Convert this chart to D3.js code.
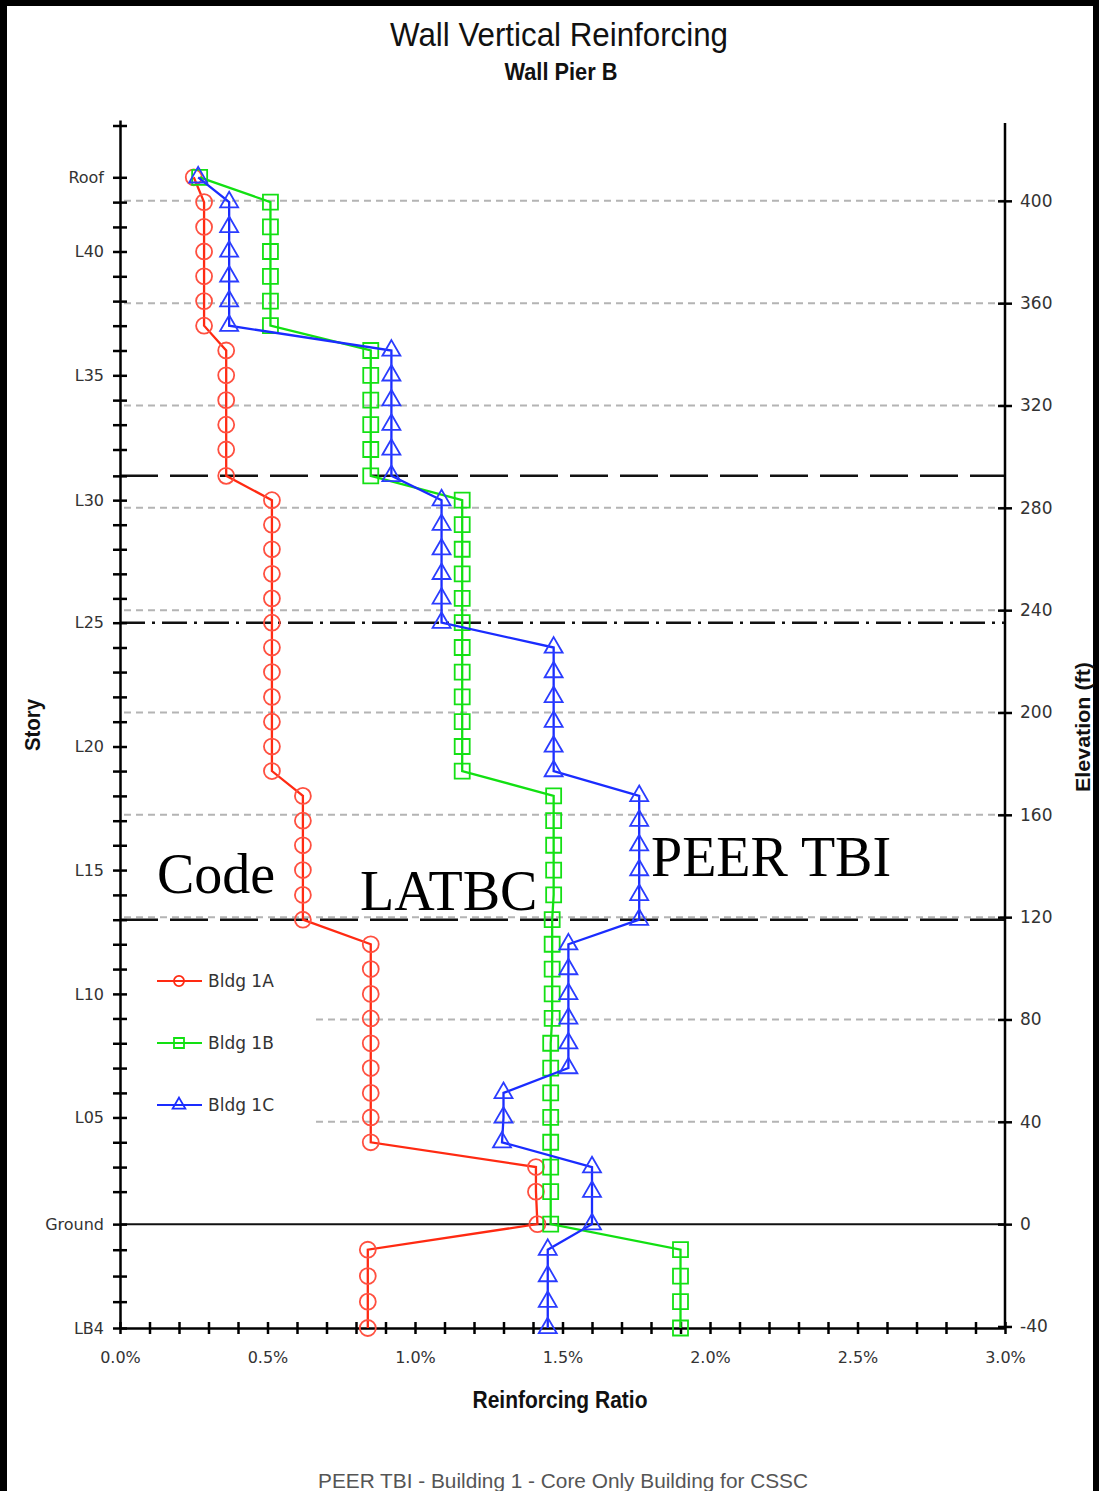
<!DOCTYPE html>
<html>
<head>
<meta charset="utf-8">
<script src="https://cdn.jsdelivr.net/npm/d3@7"></script>
<style>
  html, body { margin: 0; padding: 0; background: #000; }
  svg { display: block; }
</style>
</head>
<body>
<svg id="chart" width="1099" height="1491"></svg>
<script>
// story levels, top to bottom, with elevation in ft
const stories = ["Roof","L42","L41","L40","L39","L38","L37","L36","L35","L34","L33","L32","L31",
  "L30","L29","L28","L27","L26","L25","L24","L23","L22","L21","L20","L19","L18","L17","L16",
  "L15","L14","L13","L12","L11","L10","L09","L08","L07","L06","L05","L04","L03","L02","Ground",
  "LB1","LB2","LB3","LB4"];
const elevations = [409.2,399.5,389.8,380.2,370.5,360.8,351.2,341.5,331.8,322.1,312.5,302.8,292.5,
  283.0,273.4,263.8,254.2,244.6,235.1,225.4,215.8,206.1,196.4,186.7,177.1,167.4,157.7,148.1,
  138.4,128.7,119.0,109.4,99.7,90.0,80.4,70.7,61.0,51.3,41.7,32.0,22.3,12.7,0,
  -10.0,-20.3,-30.3,-40.6];

// reinforcing ratio (%) per story
const bldg1A = [0.25,0.285,0.285,0.285,0.285,0.285,0.285,0.36,0.36,0.36,0.36,0.36,0.36,
  0.515,0.515,0.515,0.515,0.515,0.515,0.515,0.515,0.515,0.515,0.515,0.515,0.62,0.62,0.62,
  0.62,0.62,0.62,0.85,0.85,0.85,0.85,0.85,0.85,0.85,0.85,0.85,1.41,1.41,1.415,
  0.84,0.84,0.84,0.84];
const bldg1B = [0.27,0.51,0.51,0.51,0.51,0.51,0.51,0.85,0.85,0.85,0.85,0.85,0.85,
  1.16,1.16,1.16,1.16,1.16,1.16,1.16,1.16,1.16,1.16,1.16,1.16,1.47,1.47,1.47,
  1.47,1.47,1.465,1.465,1.465,1.465,1.465,1.46,1.46,1.46,1.46,1.46,1.46,1.46,1.46,
  1.9,1.9,1.9,1.9];
const bldg1C = [0.265,0.37,0.37,0.37,0.37,0.37,0.37,0.92,0.92,0.92,0.92,0.92,0.92,
  1.09,1.09,1.09,1.09,1.09,1.09,1.47,1.47,1.47,1.47,1.47,1.47,1.76,1.76,1.76,
  1.76,1.76,1.76,1.52,1.52,1.52,1.52,1.52,1.52,1.30,1.30,1.295,1.60,1.60,1.60,
  1.45,1.45,1.45,1.45];

const seriesNames = ["Bldg 1A","Bldg 1B","Bldg 1C"];
const storyTickLabels = ["Roof","L40","L35","L30","L25","L20","L15","L10","L05","Ground","LB4"];
const elevationTicks = [-40,0,40,80,120,160,200,240,280,320,360,400];
const ratioLabelTicks = [0,0.5,1.0,1.5,2.0,2.5,3.0];
const longDashStories = ["L31","L13"];
const dashDotStories = ["L25"];
const annotations = ["Code","LATBC","PEER TBI"];

const svg = d3.select("#chart");
const tickFont = "'DejaVu Sans', sans-serif";

// white page inside the black frame
svg.append("rect").attr("x", 7).attr("y", 6).attr("width", 1086).attr("height", 1485).attr("fill", "#fff");

const x = d3.scaleLinear().domain([0, 3]).range([120, 1005]);
const y = d3.scaleLinear().domain([-40.6, 431.6]).range([1328, 120]);
const elevOf = s => elevations[stories.indexOf(s)];

// grey dashed elevation grid
svg.append("g").selectAll("line")
  .data(elevationTicks.filter(d => d > 0))
  .join("line")
  .attr("x1", x(0) + 4).attr("x2", x(3))
  .attr("y1", d => y(d)).attr("y2", d => y(d))
  .attr("stroke", "#b4b4b4").attr("stroke-width", 2)
  .attr("stroke-dasharray", "7,5");

// legend box hides the grid behind it
svg.append("rect").attr("x", 122).attr("y", 935).attr("width", 189).attr("height", 210).attr("fill", "#fff");

// reference lines
svg.append("g").selectAll("line")
  .data(longDashStories)
  .join("line")
  .attr("x1", x(0)).attr("x2", x(3))
  .attr("y1", d => y(elevOf(d))).attr("y2", d => y(elevOf(d)))
  .attr("stroke", "#111").attr("stroke-width", 2.5)
  .attr("stroke-dasharray", "38,12");
svg.append("g").selectAll("line")
  .data(dashDotStories)
  .join("line")
  .attr("x1", x(0)).attr("x2", x(3))
  .attr("y1", d => y(elevOf(d))).attr("y2", d => y(elevOf(d)))
  .attr("stroke", "#111").attr("stroke-width", 2.5)
  .attr("stroke-dasharray", "25,7,3,7");
svg.append("line")
  .attr("x1", x(0)).attr("x2", x(3))
  .attr("y1", y(0)).attr("y2", y(0))
  .attr("stroke", "#111").attr("stroke-width", 2);

// axes
function styleAxis(g) {
  g.select(".domain").attr("stroke", "#000").attr("stroke-width", 2.5);
  g.selectAll(".tick line").attr("stroke", "#000").attr("stroke-width", 2.5);
  g.selectAll(".tick text").attr("fill", "#333").attr("font-family", tickFont).attr("font-size", 16);
}

const leftAxis = svg.append("g")
  .attr("transform", `translate(${x(0)},0)`)
  .call(d3.axisLeft(y)
    .tickValues(elevations)
    .tickFormat((d, i) => storyTickLabels.includes(stories[i]) ? stories[i] : "")
    .tickSizeInner(7).tickSizeOuter(0).tickPadding(9));
leftAxis.selectAll(".tick line").attr("x1", 7);
styleAxis(leftAxis);
leftAxis.append("line").attr("x1", -7).attr("x2", 7).attr("y1", 126).attr("y2", 126)
  .attr("stroke", "#000").attr("stroke-width", 2.5);

const rightAxis = svg.append("g")
  .attr("transform", `translate(${x(3)},0)`)
  .call(d3.axisRight(y)
    .tickValues(elevationTicks)
    .tickFormat(d => String(d))
    .tickSizeInner(7).tickSizeOuter(0).tickPadding(8));
rightAxis.selectAll(".tick line").attr("x1", -7);
rightAxis.select(".domain").attr("d", `M0,${y(-40.6)}V123`);
styleAxis(rightAxis);
rightAxis.selectAll(".tick text").attr("font-size", 17);

const minorTicks = d3.range(0, 31).map(i => i / 10);
const bottomAxis = svg.append("g")
  .attr("transform", `translate(0,${y(-40.6)})`)
  .call(d3.axisBottom(x)
    .tickValues(minorTicks)
    .tickFormat(d => ratioLabelTicks.some(t => Math.abs(t - d) < 1e-6) ? d.toFixed(1) + "%" : "")
    .tickSizeInner(6).tickSizeOuter(0));
bottomAxis.selectAll(".tick line").attr("y1", -6);
styleAxis(bottomAxis);
bottomAxis.selectAll(".tick text").attr("y", 24);

// series
const colors = ["#ff2a12", "#12e012", "#1a2cff"];
const markerColors = ["#ff5040", "#14e014", "#2a3cff"];
const shapes = [d3.symbolCircle, d3.symbolSquare, d3.symbolTriangle];
const sizes = [200, 225, 140];
const allSeries = [bldg1A, bldg1B, bldg1C];

const line = d3.line().x(d => x(d.v)).y(d => y(d.e));

allSeries.forEach((vals, k) => {
  const pts = vals.map((v, i) => ({ v: v, e: elevations[i] }));
  const g = svg.append("g");
  g.append("path")
    .datum(pts)
    .attr("fill", "none")
    .attr("stroke", colors[k])
    .attr("stroke-width", 2.3)
    .attr("d", line);
  g.selectAll("path.mk")
    .data(pts)
    .join("path")
    .attr("class", "mk")
    .attr("transform", d => `translate(${x(d.v)},${y(d.e)})`)
    .attr("d", d3.symbol().type(shapes[k]).size(sizes[k]))
    .attr("fill", "none")
    .attr("stroke", markerColors[k])
    .attr("stroke-width", 1.8);
});

// legend
const legendSizes = [80, 100, 70];
seriesNames.forEach((name, k) => {
  const ly = 981 + k * 62;
  svg.append("line").attr("x1", 157).attr("x2", 202).attr("y1", ly).attr("y2", ly)
    .attr("stroke", colors[k]).attr("stroke-width", 2);
  svg.append("path")
    .attr("transform", `translate(179,${ly})`)
    .attr("d", d3.symbol().type(shapes[k]).size(legendSizes[k]))
    .attr("fill", "none").attr("stroke", colors[k]).attr("stroke-width", 1.8);
  svg.append("text").attr("x", 208).attr("y", ly).attr("dy", "0.35em")
    .attr("font-family", tickFont).attr("font-size", 17).attr("fill", "#333")
    .text(name);
});

// big serif annotations
const annotationPos = [[157, 893], [360, 910], [651, 876]];
annotations.forEach((t, i) => {
  svg.append("text")
    .attr("x", annotationPos[i][0]).attr("y", annotationPos[i][1])
    .attr("font-family", "'Liberation Serif', 'Times New Roman', serif")
    .attr("font-size", 56).attr("fill", "#000")
    .text(t);
});

// titles
function label(txt, xPos, yPos, size, weight, len, fill) {
  return svg.append("text")
    .attr("x", xPos).attr("y", yPos)
    .attr("text-anchor", "middle")
    .attr("font-family", "'Liberation Sans', Arial, sans-serif")
    .attr("font-size", size).attr("font-weight", weight)
    .attr("fill", fill || "#111")
    .attr("textLength", len).attr("lengthAdjust", "spacingAndGlyphs")
    .text(txt);
}
label("Wall Vertical Reinforcing", 559, 46, 34, "normal", 338);
label("Wall Pier B", 561, 80, 24, "bold", 113);
label("Reinforcing Ratio", 560, 1408, 24, "bold", 175);
label("PEER TBI - Building 1 - Core Only Building for CSSC", 563, 1488, 21, "normal", 490, "#555");
label("Story", 0, 0, 22, "bold", 52).attr("dy", "0.35em").attr("transform", "translate(32,725) rotate(-90)");
label("Elevation (ft)", 0, 0, 20, "bold", 130).attr("dy", "0.35em").attr("transform", "translate(1083,727) rotate(-90)");
</script>
</body>
</html>
